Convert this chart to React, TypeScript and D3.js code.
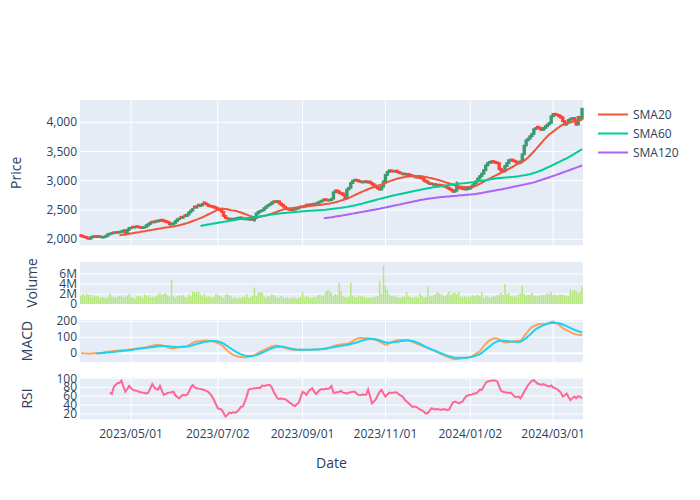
import React from "react";
import * as d3 from "d3";

// ---------- DATA ----------
const startDate = "2023-03-24";
const endDate = "2024-03-22";
const tickDates = ["2023/05/01", "2023/07/02", "2023/09/01", "2023/11/01", "2024/01/02", "2024/03/01"];
const priceTicks = [2000, 2500, 3000, 3500, 4000];
const volumeTicks = [0, 2, 4, 6];
const macdTicks = [0, 100, 200];
const rsiTicks = [20, 40, 60, 80, 100];
const legendNames = ["SMA20", "SMA60", "SMA120"];

const open = [2070,2058,2045,2038,2018,2010,2032,2052,2040,2055,
 2050,2036,2035,2044,2062,2086,2098,2118,2110,2124,
 2116,2126,2134,2152,2110,2162,2190,2215,2202,2224,
 2216,2208,2195,2200,2214,2238,2265,2300,2290,2315,
 2304,2316,2335,2325,2314,2302,2288,2252,2260,2278,
 2312,2345,2380,2368,2410,2398,2422,2462,2495,2560,
 2542,2590,2568,2582,2630,2612,2595,2575,2568,2560,
 2548,2532,2518,2502,2468,2398,2362,2340,2352,2338,
 2346,2352,2358,2374,2366,2342,2354,2348,2334,2346,
 2336,2365,2442,2468,2488,2498,2532,2562,2585,2602,
 2628,2650,2638,2648,2612,2588,2558,2532,2518,2508,
 2498,2508,2522,2528,2560,2548,2558,2590,2578,2595,
 2584,2608,2594,2612,2628,2644,2662,2684,2675,2664,
 2670,2695,2805,2835,2818,2792,2785,2762,2705,2852,
 2882,2962,3002,3018,3008,2994,2972,2978,2992,2974,
 2988,2966,2942,2918,2892,2872,2852,2902,2992,3102,
 3152,3178,3168,3158,3172,3152,3138,3112,3122,3106,
 3116,3102,3092,3082,3058,3068,3062,3052,3042,3002,
 2988,2946,2957,2932,2944,2922,2934,2928,2918,2908,
 2902,2882,2862,2842,2812,2832,2902,2884,2874,2864,
 2852,2858,2868,2888,2922,2962,2992,3042,3082,3122,
 3182,3262,3302,3312,3335,3324,3314,3302,3205,3172,
 3162,3252,3302,3352,3362,3344,3332,3312,3302,3332,
 3455,3605,3692,3722,3762,3802,3882,3925,3912,3894,
 3872,3902,3932,3962,3992,4102,4145,4134,4124,4104,
 4084,4022,3962,3992,4042,4062,4072,4032,3962,4092,
 4062];

const high = [2078,2066,2052,2044,2026,2042,2056,2060,2060,2062,
 2056,2046,2052,2068,2095,2104,2115,2124,2130,2132,
 2136,2145,2160,2158,2168,2200,2210,2222,2220,2230,
 2222,2214,2210,2220,2248,2270,2294,2308,2310,2322,
 2326,2340,2342,2330,2320,2308,2294,2270,2284,2318,
 2348,2365,2388,2394,2418,2428,2468,2498,2530,2566,
 2570,2598,2590,2612,2638,2620,2600,2582,2575,2566,
 2552,2538,2522,2506,2472,2402,2370,2360,2358,2356,
 2362,2370,2378,2380,2372,2360,2360,2354,2350,2352,
 2370,2448,2480,2495,2506,2538,2570,2592,2612,2640,
 2658,2660,2665,2655,2618,2594,2564,2538,2524,2514,
 2518,2528,2540,2552,2566,2568,2580,2596,2598,2602,
 2610,2614,2618,2640,2655,2670,2690,2692,2682,2680,
 2700,2810,2845,2842,2824,2800,2790,2768,2860,2890,
 2970,3012,3025,3028,3014,3000,2990,2998,2998,2994,
 2994,2972,2948,2924,2898,2878,2910,3000,3110,3162,
 3188,3185,3175,3180,3178,3158,3145,3130,3128,3124,
 3122,3108,3098,3088,3074,3075,3068,3058,3048,3008,
 2994,2964,2962,2950,2950,2940,2940,2934,2924,2914,
 2908,2888,2868,2848,2840,2990,2910,2890,2880,2870,
 2868,2878,2894,2928,2970,3000,3050,3090,3130,3190,
 3270,3312,3335,3345,3342,3330,3320,3308,3210,3180,
 3260,3310,3362,3372,3368,3350,3338,3318,3340,3462,
 3612,3700,3732,3772,3812,3892,3912,3932,3918,3900,
 3910,3942,3972,4002,4112,4152,4152,4140,4130,4110,
 4090,4028,4000,4050,4072,4082,4078,4038,4100,4098,
 4245];

const low = [2048,2040,2026,2012,2002,2004,2026,2038,2034,2040,
 2032,2028,2030,2040,2056,2080,2090,2102,2104,2108,
 2110,2120,2128,2098,2104,2155,2182,2195,2196,2205,
 2198,2190,2188,2194,2208,2232,2258,2284,2284,2296,
 2298,2310,2312,2302,2292,2282,2246,2244,2254,2272,
 2306,2338,2362,2360,2390,2392,2415,2455,2488,2535,
 2536,2562,2560,2575,2605,2590,2565,2556,2550,2536,
 2522,2508,2492,2462,2390,2355,2346,2332,2334,2330,
 2340,2344,2350,2356,2348,2336,2338,2332,2326,2330,
 2300,2360,2435,2460,2478,2492,2525,2555,2578,2596,
 2620,2630,2632,2600,2578,2552,2522,2508,2498,2492,
 2490,2500,2514,2522,2540,2542,2552,2572,2570,2576,
 2578,2586,2588,2605,2622,2636,2655,2662,2658,2656,
 2662,2690,2798,2806,2780,2770,2750,2690,2698,2845,
 2878,2955,2995,2996,2982,2976,2965,2970,2968,2966,
 2958,2932,2906,2882,2860,2840,2845,2898,2988,3095,
 3145,3155,3150,3150,3142,3126,3120,3104,3102,3098,
 3092,3082,3072,3062,3050,3052,3042,3032,2992,2976,
 2956,2938,2936,2925,2926,2915,2916,2906,2896,2890,
 2872,2852,2830,2805,2806,2826,2870,2862,2852,2846,
 2844,2850,2862,2882,2915,2955,2986,3036,3076,3116,
 3176,3256,3296,3305,3310,3300,3290,3190,3160,3150,
 3155,3245,3296,3345,3332,3320,3302,3290,3296,3326,
 3450,3598,3685,3716,3755,3796,3874,3900,3880,3860,
 3864,3895,3925,3955,3986,4096,4120,4110,4090,4070,
 4010,3950,3955,3986,4036,4055,4022,3950,3956,4050,
 4058];

const close = [2055,2048,2035,2020,2012,2035,2048,2045,2052,2046,
 2040,2038,2045,2060,2088,2095,2108,2112,2120,2115,
 2128,2135,2150,2108,2160,2192,2198,2205,2210,2215,
 2205,2198,2202,2212,2240,2262,2285,2292,2300,2305,
 2318,2328,2320,2310,2300,2290,2255,2262,2275,2310,
 2340,2355,2370,2385,2400,2420,2460,2490,2520,2545,
 2560,2572,2580,2600,2615,2598,2572,2565,2558,2545,
 2530,2515,2500,2470,2400,2365,2355,2350,2342,2348,
 2355,2360,2370,2365,2355,2350,2345,2340,2342,2338,
 2362,2440,2470,2485,2496,2530,2560,2580,2600,2630,
 2645,2640,2650,2610,2585,2560,2530,2515,2505,2500,
 2510,2520,2530,2545,2550,2560,2570,2580,2590,2585,
 2600,2595,2610,2630,2645,2660,2680,2670,2668,2672,
 2690,2800,2830,2815,2790,2780,2760,2700,2850,2880,
 2960,3000,3015,3005,2990,2985,2980,2990,2975,2985,
 2965,2940,2915,2890,2870,2850,2900,2990,3100,3150,
 3175,3165,3160,3170,3150,3135,3128,3120,3110,3115,
 3100,3090,3080,3070,3065,3060,3050,3040,3000,2985,
 2965,2955,2945,2940,2935,2930,2925,2915,2905,2900,
 2880,2860,2840,2815,2830,2900,2880,2870,2860,2855,
 2860,2870,2885,2920,2960,2990,3040,3080,3120,3180,
 3260,3300,3320,3330,3320,3310,3300,3200,3170,3160,
 3250,3300,3350,3360,3340,3330,3310,3300,3330,3450,
 3600,3690,3720,3760,3800,3880,3900,3910,3890,3870,
 3900,3930,3960,3990,4100,4140,4130,4120,4100,4080,
 4020,3960,3990,4040,4060,4070,4030,3960,4090,4060,
 4230];

// volume in millions
const volumeM = [1.6,2.0,1.5,2.1,1.8,1.9,1.4,1.7,1.5,1.6,
 1.2,1.4,1.3,1.2,1.5,2.2,1.5,1.4,1.3,1.5,
 1.6,1.7,1.4,1.5,1.6,2.1,1.4,1.2,1.1,1.5,
 1.6,1.5,1.2,1.9,1.6,1.7,1.4,1.5,1.3,1.6,
 1.9,2.2,1.8,2.0,2.2,1.7,1.5,4.8,1.6,1.3,
 1.6,1.7,1.5,1.8,1.4,1.3,1.9,1.6,2.5,2.4,
 2.3,2.5,1.9,1.6,2.0,1.4,1.6,1.5,1.3,1.4,
 2.1,1.8,1.6,1.5,1.2,1.8,2.0,1.7,1.5,1.2,
 1.4,1.1,1.3,1.2,1.5,1.4,2.0,1.2,1.3,1.6,
 3.3,1.6,2.2,2.4,2.3,1.5,1.3,1.6,1.5,1.9,
 1.8,1.5,1.2,1.4,1.6,1.3,1.2,1.3,1.1,1.2,
 1.4,1.2,1.0,1.3,1.4,2.3,1.3,1.6,1.4,1.3,
 1.2,1.5,1.4,1.7,1.9,1.6,1.8,2.5,2.8,2.6,
 2.2,1.6,2.0,1.8,4.2,2.6,1.5,1.4,1.3,1.5,
 4.2,1.6,1.4,1.3,1.7,1.5,1.6,1.4,1.3,1.2,
 1.3,1.2,1.4,1.5,1.6,4.5,2.0,7.7,3.6,2.8,
 1.9,1.6,1.7,1.5,1.4,1.3,1.2,1.5,1.4,2.4,
 1.5,1.4,1.2,1.3,1.5,1.2,2.1,1.6,1.3,1.4,
 3.5,1.5,1.6,1.8,2.0,2.5,2.1,1.9,1.7,1.6,
 2.0,2.5,1.8,2.2,2.3,1.9,2.5,1.4,1.5,1.6,
 1.3,1.5,1.4,1.8,1.6,1.7,1.9,1.6,2.4,1.2,
 1.7,1.5,1.3,1.4,1.6,1.5,1.8,1.9,2.2,1.8,
 4.0,2.0,2.2,1.6,1.5,1.7,1.4,1.9,2.1,3.7,
 2.0,1.6,1.8,1.9,2.2,1.7,1.5,1.6,1.8,1.7,
 1.9,1.8,2.2,2.0,2.4,1.8,1.9,1.7,1.8,1.9,
 1.8,1.7,1.6,1.5,3.0,2.4,2.8,2.6,2.2,2.5,
 3.5];

const sma20Values = [2068,2073,2078,2082,2087,2093,2099,2105,2111,2117,
 2122,2128,2133,2138,2144,2150,2156,2161,2166,2172,
 2178,2184,2190,2196,2201,2206,2210,2215,2220,2226,
 2233,2240,2248,2256,2266,2276,2288,2300,2312,2324,
 2336,2349,2362,2376,2392,2408,2424,2440,2456,2472,
 2490,2506,2520,2526,2524,2518,2512,2505,2498,2492,
 2487,2478,2468,2458,2446,2434,2421,2408,2396,2386,
 2376,2378,2382,2387,2393,2400,2408,2417,2427,2438,
 2450,2462,2475,2487,2498,2508,2516,2522,2527,2532,
 2536,2540,2542,2544,2548,2552,2556,2560,2564,2568,
 2572,2576,2580,2584,2588,2592,2597,2602,2607,2612,
 2618,2626,2634,2643,2652,2662,2672,2682,2694,2707,
 2722,2738,2754,2770,2786,2800,2814,2828,2842,2856,
 2870,2882,2894,2905,2915,2925,2937,2950,2963,2976,
 2990,3002,3014,3025,3035,3044,3052,3058,3064,3069,
 3073,3077,3080,3082,3083,3082,3080,3076,3071,3065,
 3058,3050,3042,3034,3026,3017,3008,2998,2988,2978,
 2966,2955,2944,2933,2922,2912,2905,2900,2897,2895,
 2895,2896,2899,2903,2908,2915,2930,2948,2966,2984,
 3002,3020,3038,3056,3072,3088,3104,3120,3136,3152,
 3168,3186,3204,3222,3240,3258,3276,3294,3310,3326,
 3345,3370,3400,3432,3466,3500,3536,3574,3612,3650,
 3690,3726,3760,3790,3816,3840,3866,3892,3916,3940,
 3960,3975,3985,3993,4000,4008,4015,4022,4028,4036,4042];

const sma60Values = [2229,2235,2241,2247,2253,2259,2264,2270,
 2276,2282,2288,2293,2298,2303,2309,2314,2320,2326,
 2331,2337,2342,2347,2352,2356,2361,2366,2371,2376,
 2380,2385,2390,2394,2399,2404,2408,2413,2418,2423,
 2428,2432,2436,2440,2444,2448,2451,2454,2457,2460,
 2463,2466,2469,2472,2475,2478,2481,2484,2486,2488,
 2490,2492,2494,2496,2498,2500,2503,2506,2510,2514,
 2518,2522,2526,2530,2534,2539,2544,2549,2554,2560,
 2566,2572,2579,2586,2594,2602,2610,2619,2628,2637,
 2646,2655,2664,2673,2682,2691,2699,2707,2715,2723,
 2731,2739,2747,2755,2762,2769,2776,2783,2790,2797,
 2804,2811,2818,2825,2832,2839,2846,2853,2859,2865,
 2871,2877,2883,2889,2894,2899,2904,2909,2914,2919,
 2924,2928,2932,2936,2940,2944,2948,2952,2956,2960,
 2964,2968,2972,2976,2980,2985,2990,2995,3000,3005,
 3010,3016,3022,3028,3034,3038,3042,3046,3049,3052,
 3055,3058,3061,3064,3067,3071,3075,3079,3084,3089,
 3094,3100,3107,3114,3124,3134,3144,3156,3168,3181,
 3195,3210,3225,3240,3256,3272,3288,3304,3320,3336,
 3352,3368,3384,3402,3420,3440,3460,3480,3500,3520,3540];

const sma120Values = [2362,2366,2370,2374,
 2378,2383,2388,2393,2398,2403,2409,2415,2421,2427,
 2433,2439,2445,2451,2457,2463,2469,2475,2481,2487,
 2493,2499,2505,2511,2517,2523,2530,2537,2544,2551,
 2558,2565,2572,2579,2586,2593,2600,2607,2614,2621,
 2628,2635,2642,2649,2656,2663,2670,2676,2682,2687,
 2692,2697,2701,2705,2709,2713,2717,2721,2724,2727,
 2730,2733,2736,2739,2742,2745,2748,2751,2754,2757,
 2760,2763,2766,2769,2772,2775,2781,2787,2793,2799,
 2805,2811,2817,2823,2829,2835,2841,2847,2853,2859,
 2866,2873,2880,2887,2894,2901,2908,2915,2922,2929,
 2936,2943,2950,2957,2964,2973,2983,2994,3005,3016,
 3027,3038,3049,3060,3071,3082,3093,3105,3117,3129,
 3141,3153,3165,3177,3189,3201,3213,3225,3237,3249,3261];

const macdValues = [0,0,-1,-2,-3,-2,-1,0,0,1,
 2,3,5,7,9,10,12,14,15,16,
 17,18,19,20,21,23,24,26,27,29,
 31,32,34,36,38,41,44,47,50,52,
 53,52,50,46,42,38,33,31,31,33,
 35,37,39,41,42,44,50,57,64,70,
 73,75,77,78,79,79,78,77,75,72,
 69,64,58,50,40,28,16,6,-3,-10,
 -15,-19,-22,-24,-25,-25,-25,-23,-20,-16,
 -12,-6,2,9,15,20,25,31,37,42,
 46,48,47,44,41,37,33,29,26,23,
 21,20,20,20,21,21,21,21,22,22,
 23,23,24,24,25,25,26,27,30,35,
 40,44,48,51,52,54,56,58,60,62,
 68,76,84,90,94,95,95,94,94,94,
 93,90,86,82,77,73,66,58,53,56,
 62,68,74,78,80,81,82,83,83,83,
 80,76,71,66,61,56,52,47,42,37,
 32,27,22,17,12,6,0,-6,-11,-16,
 -21,-26,-31,-35,-37,-36,-34,-33,-31,-30,
 -28,-26,-24,-18,-11,-3,5,12,28,44,
 58,70,80,87,92,94,92,86,78,72,
 68,67,68,70,72,74,76,78,76,90,
 108,122,138,152,163,170,175,180,183,183,
 182,183,186,190,195,198,193,186,178,168,
 158,150,145,138,132,126,122,118,116,114,115];

const signalValues = [-2,-1,
 0,1,2,4,5,6,7,8,10,11,
 12,13,15,16,17,19,20,22,24,26,
 28,29,31,32,34,35,37,38,40,41,
 43,44,45,45,44,43,42,41,40,39,
 39,39,40,40,41,42,44,47,50,54,
 58,61,64,67,70,72,74,76,77,77,
 76,74,70,66,60,52,44,36,28,20,
 12,5,-1,-7,-11,-15,-17,-18,-18,-17,
 -15,-12,-8,-3,3,9,15,20,26,31,
 35,39,41,42,41,40,38,35,32,29,
 27,25,23,22,21,21,21,21,21,22,
 22,23,23,24,25,26,28,30,32,34,
 36,38,40,42,44,46,48,50,52,55,
 58,61,64,67,72,76,80,83,86,88,
 89,90,89,87,84,80,76,72,68,66,
 66,67,68,70,72,74,76,77,78,79,
 79,78,76,73,69,64,58,52,46,40,
 34,29,24,19,14,9,4,-1,-6,-11,
 -15,-19,-22,-25,-27,-28,-28,-28,-28,-28,
 -28,-27,-25,-22,-19,-15,-11,-6,2,12,
 22,32,42,52,61,68,74,78,79,78,
 77,76,75,74,73,72,71,70,72,78,
 86,96,106,116,128,140,150,158,164,170,
 176,180,184,187,189,190,190,189,187,184,
 180,175,170,164,158,152,147,142,138,134,130];

const rsiValues = [68,65,80,86,89,
 90,95,82,70,76,83,78,74,73,72,
 70,69,68,67,66,68,78,87,80,76,
 75,83,72,63,65,67,68,69,70,62,
 58,55,60,63,62,63,70,80,85,80,
 78,77,76,75,74,72,70,65,59,52,
 42,33,31,30,22,14,18,23,22,24,
 23,25,30,36,37,48,59,75,76,77,
 78,78,79,78,84,83,84,85,85,80,
 70,62,55,54,55,54,53,50,46,44,
 40,38,42,45,58,70,67,63,70,75,
 78,70,65,70,74,76,75,77,76,78,
 83,68,68,69,70,72,68,67,66,68,
 69,70,70,66,63,62,64,63,63,75,
 60,44,48,53,62,70,74,66,59,64,
 68,67,68,69,68,64,61,59,52,48,
 44,40,36,37,36,33,30,28,25,21,
 22,28,33,31,30,31,30,29,31,30,
 29,30,38,46,48,46,44,46,48,55,
 60,62,63,64,66,66,70,75,74,82,
 90,93,94,95,96,95,93,82,72,70,
 69,68,67,68,64,59,58,59,55,62,
 70,78,85,90,95,96,92,88,87,86,
 87,85,83,82,84,80,78,76,72,68,
 59,62,66,58,51,56,59,55,60,59,55];

// ---------- LAYOUT ----------
const W = 700;
const H = 500;
const L = 80;
const R = 583;
const PRICE_Y: [number, number] = [245.5, 100];
const VOL_Y: [number, number] = [304, 262];
const MACD_Y: [number, number] = [362, 320];
const RSI_Y: [number, number] = [419.5, 377.5];
const FONT = '"Open Sans", verdana, arial, sans-serif';
const TXT = "#2a3f5f";
const BG = "#E5ECF6";
const INC = "#3D9970";
const DEC = "#FF4136";
const C_SMA = ["#EF553B", "#00CC96", "#AB63FA"];
const C_MACD = "#FFA15A";
const C_SIGNAL = "#19D3F3";
const C_RSI = "#FF6692";
const C_VOL = "#B6E880";

const N = close.length;
const lead = (vals: number[]): (number | null)[] => [
  ...new Array(N - vals.length).fill(null),
  ...vals,
];

export default function App() {
  const parseISO = d3.timeParse("%Y-%m-%d");
  const parseTick = d3.timeParse("%Y/%m/%d");
  const dates = d3
    .timeDay.range(parseISO(startDate)!, d3.timeDay.offset(parseISO(endDate)!, 1))
    .filter((d) => d.getDay() !== 0 && d.getDay() !== 6);

  const x = d3.scaleLinear().domain([-0.5, N - 0.5]).range([L, R]);
  const step = (R - L) / N;
  const yP = d3.scaleLinear().domain([1894, 4381]).range(PRICE_Y);
  const yV = d3.scaleLinear().domain([0, 8.4]).range(VOL_Y);
  const yM = d3.scaleLinear().domain([-55, 208]).range(MACD_Y);
  const yR = d3.scaleLinear().domain([7.6, 102]).range(RSI_Y);

  const tickX = tickDates.map((s) => x(d3.bisectLeft(dates, parseTick(s)!)));

  const mkLine = (y: d3.ScaleLinear<number, number>) =>
    d3
      .line<number | null>()
      .defined((v) => v != null)
      .x((_, i) => x(i))
      .y((v) => y(v as number));

  const sma = [lead(sma20Values), lead(sma60Values), lead(sma120Values)];
  const macd = lead(macdValues);
  const signal = lead(signalValues);
  const rsi = lead(rsiValues);

  const panel = (yr: [number, number], key: string, vgrid: boolean) => (
    <g key={key}>
      <rect x={L} y={yr[1]} width={R - L} height={yr[0] - yr[1]} fill={BG} />
      {vgrid &&
        tickX.map((tx, i) => (
          <line key={i} x1={tx} x2={tx} y1={yr[1]} y2={yr[0]} stroke="#fff" strokeWidth={1} />
        ))}
    </g>
  );

  const hgrid = (y: d3.ScaleLinear<number, number>, ticks: number[], zero: boolean) =>
    ticks.map((t) => (
      <line
        key={t}
        x1={L}
        x2={R}
        y1={y(t)}
        y2={y(t)}
        stroke="#fff"
        strokeWidth={zero && t === 0 ? 2 : 1}
      />
    ));

  const yLabels = (y: d3.ScaleLinear<number, number>, ticks: number[], fmt: (v: number) => string) =>
    ticks.map((t) => (
      <text key={t} x={L - 3} y={y(t)} dy="0.35em" textAnchor="end" fontSize={12} fill={TXT} fontFamily={FONT}>
        {fmt(t)}
      </text>
    ));

  const yTitle = (label: string, cx: number, cy: number) => (
    <text
      transform={`translate(${cx},${cy}) rotate(-90)`}
      textAnchor="middle"
      dy="0.35em"
      fontSize={14}
      fill={TXT}
      fontFamily={FONT}
    >
      {label}
    </text>
  );

  const bodyW = step * 0.7;

  return (
    <svg
      width={W}
      height={H}
      style={{ position: "absolute", left: 0, top: 0, background: "#fff" }}
      xmlns="http://www.w3.org/2000/svg"
    >
      <rect x={0} y={0} width={W} height={H} fill="#fff" />
      {panel(PRICE_Y, "p", true)}
      {panel(VOL_Y, "v", false)}
      {panel(MACD_Y, "m", true)}
      {panel(RSI_Y, "r", true)}

      {hgrid(yP, priceTicks, false)}
      {hgrid(yV, volumeTicks.filter((t) => t > 0), false)}
      {hgrid(yM, macdTicks, true)}
      {hgrid(yR, rsiTicks, false)}

      {/* candles */}
      <g>
        {close.map((c, i) => {
          const o = open[i];
          const col = c >= o ? INC : DEC;
          const cx = x(i);
          const top = yP(Math.max(o, c));
          const bot = yP(Math.min(o, c));
          return (
            <g key={i}>
              <line x1={cx} x2={cx} y1={yP(high[i])} y2={yP(low[i])} stroke={col} strokeWidth={2} />
              <rect
                x={cx - bodyW / 2}
                y={top}
                width={bodyW}
                height={Math.max(0.5, bot - top)}
                fill={col}
                stroke={col}
                strokeWidth={2}
              />
            </g>
          );
        })}
      </g>

      {sma.map((s, k) => (
        <path key={k} d={mkLine(yP)(s) || ""} fill="none" stroke={C_SMA[k]} strokeWidth={2} />
      ))}

      {/* volume */}
      <g>
        {volumeM.map((v, i) => (
          <rect
            key={i}
            x={x(i) - step * 0.4}
            y={yV(v)}
            width={step * 0.8}
            height={yV(0) - yV(v)}
            fill={C_VOL}
          />
        ))}
      </g>

      <path d={mkLine(yM)(macd) || ""} fill="none" stroke={C_MACD} strokeWidth={2} />
      <path d={mkLine(yM)(signal) || ""} fill="none" stroke={C_SIGNAL} strokeWidth={2} />
      <path d={mkLine(yR)(rsi) || ""} fill="none" stroke={C_RSI} strokeWidth={2} />

      {yLabels(yP, priceTicks, d3.format(","))}
      {yLabels(yV, volumeTicks, (v) => (v === 0 ? "0" : `${v}M`))}
      {yLabels(yM, macdTicks, (v) => String(v))}
      {yLabels(yR, rsiTicks, (v) => String(v))}

      {tickDates.map((s, i) => (
        <text key={s} x={tickX[i]} y={438} textAnchor="middle" fontSize={12} fill={TXT} fontFamily={FONT}>
          {s}
        </text>
      ))}

      {yTitle("Price", 16, (PRICE_Y[0] + PRICE_Y[1]) / 2)}
      {yTitle("Volume", 32.5, (VOL_Y[0] + VOL_Y[1]) / 2)}
      {yTitle("MACD", 27.5, (MACD_Y[0] + MACD_Y[1]) / 2)}
      {yTitle("RSI", 27, (RSI_Y[0] + RSI_Y[1]) / 2)}

      <text x={(L + R) / 2} y={468} textAnchor="middle" fontSize={14} fill={TXT} fontFamily={FONT}>
        Date
      </text>

      {legendNames.map((name, k) => (
        <g key={name} transform={`translate(593,${114.5 + k * 19})`}>
          <line x1={5} x2={35} y1={0} y2={0} stroke={C_SMA[k]} strokeWidth={2} />
          <text x={40} y={0} dy="0.35em" fontSize={12} fill={TXT} fontFamily={FONT}>
            {name}
          </text>
        </g>
      ))}
    </svg>
  );
}
